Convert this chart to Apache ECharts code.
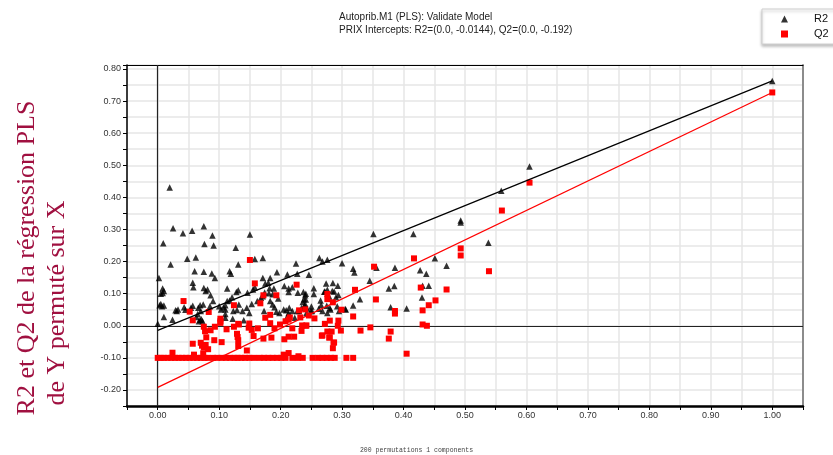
<!DOCTYPE html>
<html>
<head>
<meta charset="utf-8">
<script src="https://cdn.jsdelivr.net/npm/echarts@6/dist/echarts.min.js"></script>
<style>
  html, body { margin: 0; padding: 0; background: #fff; }
  #chart { width: 833px; height: 455px; }
</style>
</head>
<body>
<div id="chart"></div>
<script>
// Permutation test: correlation of permuted Y with original Y (x) against R2 / Q2 (y)
const r2Perm = [
  [0.0195,0.431],[0.025,0.304],[0.009,0.257],[0.041,0.288],[0.056,0.296],[0.075,0.310],[0.089,0.281],
  [0.076,0.255],[0.091,0.250],[0.127,0.243],[0.150,0.284],[0.048,0.209],[0.062,0.213],[0.171,0.211],
  [0.158,0.208],[0.263,0.211],[0.351,0.286],[0.416,0.286],[0.493,0.328],[0.493,0.322],[0.559,0.421],
  [0.605,0.496],[0.538,0.259],[0.451,0.210],[0.470,0.187],[0.318,0.178],[0.320,0.166],[0.356,0.181],
  [0.386,0.181],[0.427,0.173],[0.437,0.162],[0.345,0.140],[0.376,0.116],[0.385,0.124],[0.431,0.125],
  [0.441,0.125],[0.329,0.083],[0.318,0.063],[0.306,0.051],[0.379,0.058],[0.405,0.054],[0.430,0.088],
  [0.268,0.200],[0.276,0.206],[0.246,0.159],[0.300,0.195],[0.285,0.133],[0.293,0.125],[0.276,0.112],
  [0.272,0.107],[0.287,0.107],[0.294,0.096],[0.279,0.091],[0.254,0.117],[0.241,0.100],[0.238,0.083],
  [0.305,0.052],[0.250,0.060],[0.262,0.053],[0.275,0.062],[0.266,0.065],[0.280,0.055],[0.240,0.068],
  [0.234,0.055],[0.021,0.191],[0.131,0.191],[0.225,0.194],[0.060,0.170],[0.075,0.168],[0.088,0.163],
  [0.093,0.149],[0.117,0.170],[0.119,0.162],[0.002,0.149],[0.057,0.134],[0.058,0.120],[0.075,0.118],
  [0.078,0.108],[0.081,0.113],[0.086,0.095],[0.113,0.116],[0.128,0.105],[0.131,0.111],[0.146,0.103],
  [0.155,0.113],[0.158,0.120],[0.171,0.149],[0.183,0.149],[0.194,0.167],[0.211,0.160],[0.227,0.162],
  [0.180,0.134],[0.175,0.132],[0.182,0.117],[0.189,0.116],[0.174,0.104],[0.181,0.101],[0.187,0.098],
  [0.196,0.085],[0.206,0.124],[0.213,0.116],[0.219,0.120],[0.213,0.105],[0.228,0.103],[0.237,0.105],
  [0.240,0.095],[0.241,0.082],[0.008,0.116],[0.010,0.108],[0.008,0.102],[0.005,0.100],[0.005,0.068],
  [0.007,0.061],[0.010,0.063],[0.003,0.064],[0.010,0.027],[0.024,0.019],[0.029,0.048],[0.031,0.046],
  [0.033,0.051],[0.043,0.058],[0.045,0.050],[0.054,0.056],[0.057,0.062],[0.066,0.056],[0.069,0.064],
  [0.074,0.066],[0.070,0.046],[0.065,0.037],[0.067,0.014],[0.071,0.020],[0.069,0.019],[0.073,0.014],
  [0.063,0.027],[0.085,0.061],[0.090,0.077],[0.100,0.061],[0.103,0.051],[0.107,0.058],[0.110,0.064],
  [0.113,0.077],[0.117,0.079],[0.121,0.089],[0.110,0.051],[0.123,0.046],[0.129,0.049],[0.122,0.022],
  [0.110,0.025],[0.110,0.037],[0.132,0.066],[0.138,0.046],[0.145,0.056],[0.149,0.040],[0.153,0.068],
  [0.162,0.077],[0.168,0.087],[0.171,0.092],[0.140,0.017],[0.183,0.077],[0.187,0.066],[0.173,0.046],
  [0.190,0.058],[0.193,0.044],[0.198,0.040],[0.205,0.051],[0.209,0.048],[0.214,0.056],[0.213,0.040],
  [0.211,0.030],[0.219,0.046],[0.223,0.025],[0.227,0.046],[0.230,0.046],[0.236,0.074],[0.239,0.063],
  [0.243,0.054],[0.242,0.040],[0.249,0.046],[0.254,0.099],[0.251,0.046],[0.265,0.079],[0.271,0.106],
  [0.268,0.046],[0.276,0.040],[0.281,0.051],[0.292,0.061],[0.295,0.046],[0.284,0.108],[0.290,0.089],
  [0.000,0.006],[0.274,0.132]
];

const q2Perm = [
  [0.150,0.205],[0.605,0.446],[0.560,0.359],[0.493,0.241],[0.493,0.219],[0.417,0.210],[0.539,0.170],
  [0.352,0.184],[0.428,0.119],[0.470,0.113],[0.321,0.112],[0.355,0.082],[0.386,0.046],[0.386,0.038],
  [0.452,0.079],[0.441,0.064],[0.431,0.048],[0.318,0.029],[0.431,0.004],[0.438,0.000],[0.330,-0.015],
  [0.346,-0.005],[0.379,-0.018],[0.376,-0.040],[0.405,-0.087],[0.307,-0.100],[0.318,-0.100],
  [0.276,0.083],[0.285,0.073],[0.240,0.051],[0.246,0.032],[0.255,0.023],[0.272,0.006],[0.280,0.016],
  [0.294,0.016],[0.299,0.050],[0.293,0.000],[0.241,0.000],[0.276,-0.018],[0.283,-0.018],[0.267,-0.031],
  [0.280,-0.036],[0.287,-0.052],[0.285,-0.070],[0.298,-0.015],
  [0.158,0.132],[0.172,0.095],[0.193,0.095],[0.226,0.128],[0.167,0.070],[0.124,0.064],[0.042,0.077],
  [0.052,0.044],[0.083,0.043],[0.057,0.017],[0.102,0.022],[0.102,0.014],[0.102,0.009],[0.075,-0.003],
  [0.093,-0.003],[0.086,-0.014],[0.112,-0.011],[0.124,-0.003],[0.131,0.006],[0.132,0.004],[0.149,0.007],
  [0.148,-0.006],[0.153,-0.013],[0.163,-0.008],[0.175,0.025],[0.183,0.034],[0.183,0.008],[0.190,-0.008],
  [0.199,0.004],[0.208,0.014],[0.213,0.019],[0.215,0.026],[0.219,-0.008],[0.230,0.048],[0.232,0.026],
  [0.235,0.001],[0.242,0.001],[0.276,0.099],[0.077,-0.017],[0.079,-0.036],[0.092,-0.045],[0.104,-0.051],
  [0.129,-0.025],[0.130,-0.035],[0.131,-0.045],[0.057,-0.056],[0.070,-0.053],[0.072,-0.062],[0.075,-0.068],
  [0.078,-0.060],[0.082,-0.073],[0.074,-0.086],[0.024,-0.084],[0.131,-0.063],[0.145,-0.077],[0.156,-0.032],
  [0.172,-0.040],[0.185,-0.037],[0.206,-0.042],[0.213,-0.034],[0.222,-0.034],[0.234,-0.016],[0.268,-0.030],
  [0.279,-0.037],[0.286,-0.053],[0.059,-0.090],[0.205,-0.090],[0.213,-0.085],[0.229,-0.095],
  // permutations whose Q2 sits at the -0.1 floor
  [0.000,-0.100],[0.005,-0.100],[0.010,-0.100],[0.016,-0.100],[0.022,-0.100],[0.028,-0.100],[0.034,-0.100],
  [0.040,-0.100],[0.046,-0.100],[0.052,-0.100],[0.058,-0.100],[0.064,-0.100],[0.070,-0.100],[0.076,-0.100],
  [0.081,-0.100],[0.090,-0.100],[0.097,-0.100],[0.104,-0.100],[0.111,-0.100],[0.118,-0.100],[0.125,-0.100],
  [0.130,-0.100],[0.136,-0.100],[0.142,-0.100],[0.149,-0.100],[0.157,-0.100],[0.166,-0.100],[0.173,-0.100],
  [0.180,-0.100],[0.187,-0.100],[0.194,-0.100],[0.201,-0.100],[0.208,-0.100],[0.219,-0.100],[0.228,-0.100],
  [0.236,-0.100],[0.252,-0.100],[0.261,-0.100],[0.268,-0.100],[0.275,-0.100],[0.282,-0.100],[0.288,-0.100]
];

// Unpermuted model (x = 1) and the intercepts of the fitted lines
const r2Orig = 0.763;
const q2Orig = 0.727;
const r2Intercept = -0.0144;
const q2Intercept = -0.192;

const titleLines = [
  'Autoprib.M1 (PLS): Validate Model',
  'PRIX Intercepts: R2=(0.0, -0.0144), Q2=(0.0, -0.192)'
];
const yTitleLines = ['R2 et Q2 de la régression PLS', 'de Y permuté sur X'];
const footer = '200 permutations 1 components';

const sans = 'Liberation Sans, Arial, sans-serif';

function tenthLabel(v) {
  const k = Math.round(v * 100);
  return (k % 10 === 0) ? v.toFixed(2) : '';
}

const chart = echarts.init(document.getElementById('chart'), null, { renderer: 'canvas' });

chart.setOption({
  backgroundColor: '#fff',
  animation: false,
  title: [
    {
      text: titleLines.join('\n'),
      left: 334, top: 6,
      textStyle: { fontFamily: sans, fontSize: 10, fontWeight: 'normal', color: '#222', lineHeight: 13 }
    },
    {
      text: footer,
      left: 'center', top: 442,
      textStyle: { fontFamily: 'Liberation Mono, monospace', fontSize: 6.5, fontWeight: 'normal', color: '#444' }
    }
  ],
  legend: {
    data: ['R2', 'Q2'],
    orient: 'vertical',
    left: 762, top: 9,
    padding: [4, 14, 4, 19],
    itemWidth: 7, itemHeight: 7, itemGap: 3,
    symbolKeepAspect: true,
    backgroundColor: '#fff',
    borderColor: '#d0d0d0', borderWidth: 1,
    shadowColor: 'rgba(0,0,0,0.25)', shadowBlur: 3, shadowOffsetY: 2,
    textStyle: { fontFamily: sans, fontSize: 11, color: '#111', lineHeight: 12, padding: [0, 0, 0, 21] }
  },
  grid: { left: 127, right: 30, top: 65, bottom: 49, containLabel: false },
  xAxis: [
    {
      type: 'value', min: -0.05, max: 1.05, interval: 0.05,
      axisLine: { onZero: false, lineStyle: { color: '#000', width: 2.5 } },
      axisTick: { show: true, length: 4, lineStyle: { color: '#000', width: 1 } },
      axisLabel: { formatter: tenthLabel, fontFamily: sans, fontSize: 9, color: '#333', margin: 5,
                   showMinLabel: true, showMaxLabel: true },
      splitLine: { show: true, lineStyle: { color: '#e6e6e6', width: 1.5 } }
    },
    {
      type: 'value', position: 'top', min: -0.05, max: 1.05,
      axisLine: { onZero: false, lineStyle: { color: '#000', width: 1 } },
      axisTick: { show: false }, axisLabel: { show: false }, splitLine: { show: false }
    }
  ],
  yAxis: [
    {
      type: 'value', min: -0.25, max: 0.8125, interval: 0.05,
      axisLine: { show: true, onZero: false, lineStyle: { color: '#000', width: 1.5 } },
      axisTick: { show: true, length: 4, lineStyle: { color: '#000', width: 1 } },
      axisLabel: { formatter: tenthLabel, fontFamily: sans, fontSize: 9, color: '#333', margin: 6 },
      splitLine: { show: true, lineStyle: { color: '#e6e6e6', width: 1.5 } }
    },
    {
      type: 'value', position: 'right', min: -0.25, max: 0.8125,
      axisLine: { show: true, onZero: false, lineStyle: { color: '#8c8c8c', width: 2 } },
      axisTick: { show: false }, axisLabel: { show: false }, splitLine: { show: false }
    }
  ],
  graphic: [
    {
      type: 'text', x: 27, y: 258, rotation: Math.PI / 2,
      style: { text: yTitleLines[0], font: '26px "Liberation Serif", "Times New Roman", serif',
               fill: '#a01040', textAlign: 'center', textVerticalAlign: 'middle',
               align: 'center', verticalAlign: 'middle' }
    },
    {
      type: 'text', x: 57, y: 303, rotation: Math.PI / 2,
      style: { text: yTitleLines[1], font: '26px "Liberation Serif", "Times New Roman", serif',
               fill: '#a01040', textAlign: 'center', textVerticalAlign: 'middle',
               align: 'center', verticalAlign: 'middle' }
    }
  ],
  series: [
    {
      // origin cross-hairs
      name: 'axes', type: 'line', data: [], z: 1, silent: true,
      markLine: {
        silent: true, symbol: 'none', z: 1, animation: false,
        label: { show: false },
        lineStyle: { color: '#222', width: 1.2, type: 'solid' },
        emphasis: { disabled: true },
        data: [{ xAxis: 0 }, { yAxis: 0 }]
      }
    },
    {
      name: 'R2', type: 'scatter', symbol: 'triangle', symbolSize: 6.5, z: 3,
      itemStyle: { color: '#000' },
      data: r2Perm.concat([[1, r2Orig]])
    },
    {
      name: 'Q2', type: 'scatter', symbol: 'rect', symbolSize: 6, z: 4,
      itemStyle: { color: '#ff0000', opacity: 1 },
      data: q2Perm.concat([[1, q2Orig]])
    },
    {
      name: 'R2 fit', type: 'line', symbol: 'none', z: 5, silent: true,
      lineStyle: { color: '#000', width: 1.2 },
      data: [[0, r2Intercept], [1, r2Orig]]
    },
    {
      name: 'Q2 fit', type: 'line', symbol: 'none', z: 5, silent: true,
      lineStyle: { color: '#ff0000', width: 1.2 },
      data: [[0, q2Intercept], [1, q2Orig]]
    }
  ]
});
</script>
</body>
</html>
